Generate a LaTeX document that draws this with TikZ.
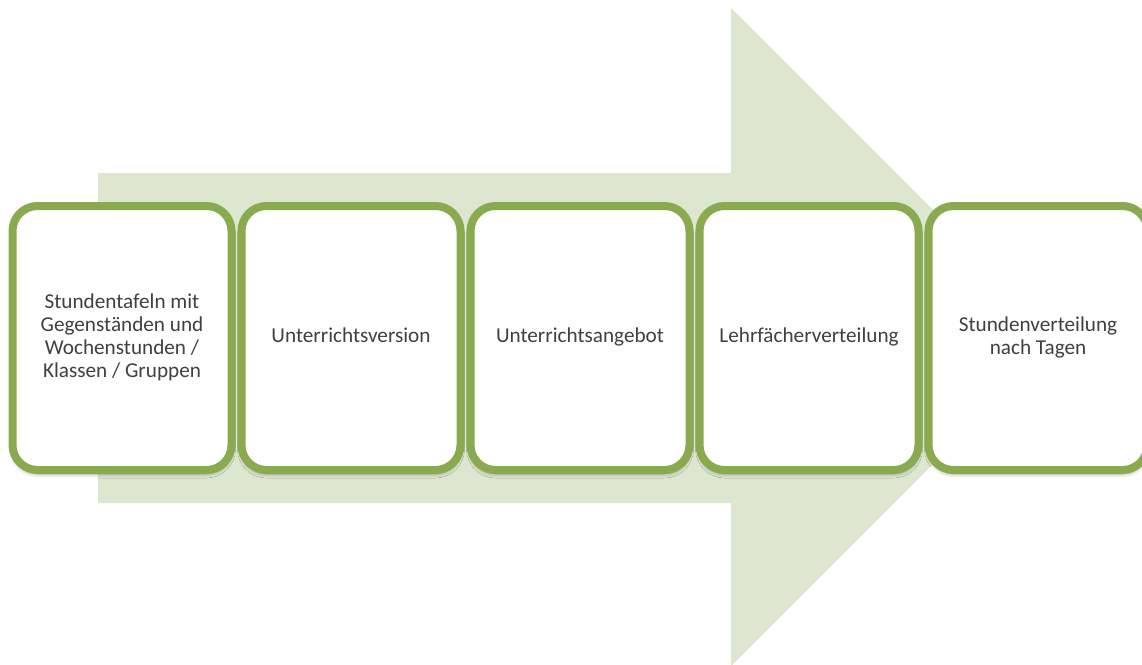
\documentclass[tikz,border=0pt]{standalone}
\usepackage{fontspec}
\setmainfont{Carlito}
\usetikzlibrary{shadows.blur}
\definecolor{arrowfill}{RGB}{221,231,208}
\definecolor{boxline}{RGB}{138,170,80}
\definecolor{boxtext}{RGB}{64,64,64}
\tikzset{
  stagebox/.style={rectangle, draw=boxline, line width=8pt, fill=white,
    rounded corners=25pt, minimum width=219pt, minimum height=264pt,
    align=center, text=boxtext,
    font=\fontsize{21.2pt}{23pt}\selectfont,
    blur shadow={shadow xshift=0pt, shadow yshift=-4pt, shadow opacity=35, shadow blur radius=4pt}},
  bigarrow/.style={fill=arrowfill, draw=none}
}
\begin{document}
\begin{tikzpicture}[x=1pt,y=-1pt]
  \useasboundingbox (0,0) rectangle (1142,664);
  \clip (0,0) rectangle (1142,664);
  % broad process arrow in the background
  \fill[bigarrow] (98,173) -- (731,173) -- (731,8) -- (1060,337)
        -- (731,666) -- (731,503) -- (98,503) -- cycle;
  % process stages
  \node[stagebox] (s1) at (122,338) {\strut Stundentafeln mit\\Gegenständen und\\Wochenstunden /\\Klassen / Gruppen\strut};
  \node[stagebox] (s2) at (351,338) {\strut Unterrichtsversion};
  \node[stagebox] (s3) at (580,338) {\strut Unterrichtsangebot};
  \node[stagebox] (s4) at (809,338) {\strut Lehrfächerverteilung};
  \node[stagebox] (s5) at (1038,338) {\strut Stundenverteilung\\nach Tagen\strut};
\end{tikzpicture}
\end{document}
